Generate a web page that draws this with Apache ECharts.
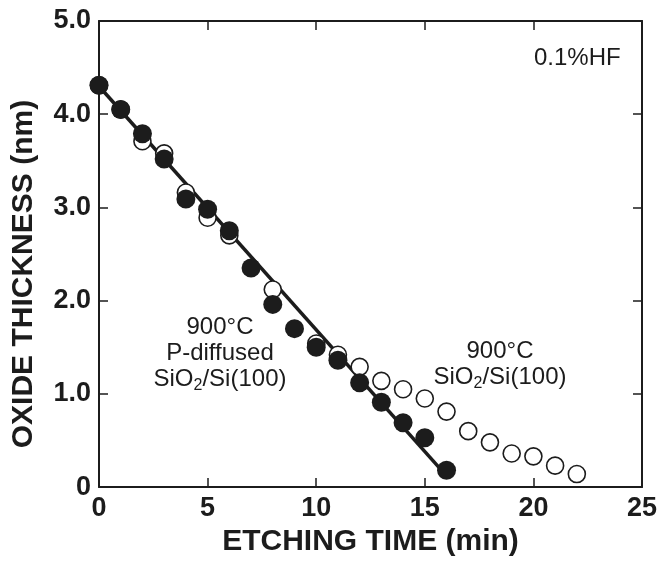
<!DOCTYPE html>
<html>
<head>
<meta charset="utf-8">
<script src="https://cdn.jsdelivr.net/npm/echarts@6/dist/echarts.min.js"></script>
<style>
  html, body { margin: 0; padding: 0; background: #fff; }
  #chart { width: 664px; height: 562px; }
</style>
</head>
<body>
<div id="chart"></div>
<script>
// Etching time (min) for each measurement
const timesPDiffused = [0, 1, 2, 3, 4, 5, 6, 7, 8, 9, 10, 11, 12, 13, 14, 15, 16];
// 900°C P-diffused SiO2/Si(100): oxide thickness (nm), filled circles
const thicknessPDiffused = [4.31, 4.05, 3.79, 3.52, 3.09, 2.98, 2.75, 2.35, 1.96, 1.70, 1.50, 1.36, 1.12, 0.91, 0.69, 0.53, 0.18];

const timesThermal = [0, 1, 2, 3, 4, 5, 6, 8, 10, 11, 12, 13, 14, 15, 16, 17, 18, 19, 20, 21, 22];
// 900°C SiO2/Si(100): oxide thickness (nm), open circles
const thicknessThermal = [4.31, 4.05, 3.71, 3.58, 3.16, 2.89, 2.70, 2.12, 1.54, 1.42, 1.29, 1.14, 1.05, 0.95, 0.81, 0.60, 0.48, 0.36, 0.33, 0.23, 0.14];

// Linear fit through the P-diffused data: [time, thickness]
const fitLine = [[0, 4.30], [16, 0.12]];

// Axis tick labels
const xTickLabels = ['0', '5', '10', '15', '20', '25'];
const yTickLabels = ['0', '1.0', '2.0', '3.0', '4.0', '5.0'];

const INK = '#1c1c1c';
const FONT = '"Liberation Sans", Arial, Helvetica, sans-serif';

const pairs = (xs, ys) => xs.map((x, i) => [x, ys[i]]);

const chart = echarts.init(document.getElementById('chart'), null, { renderer: 'canvas' });

const frameAxisCommon = {
  axisLine: { show: true, onZero: false, lineStyle: { color: INK, width: 2 } },
  axisTick: { show: true, inside: true, length: 9, lineStyle: { color: INK, width: 1.5 } },
  splitLine: { show: false }
};

chart.setOption({
  backgroundColor: '#ffffff',
  animation: false,
  grid: { left: 99, right: 22, top: 21, bottom: 66, containLabel: false },
  xAxis: [
    Object.assign({
      type: 'value', position: 'bottom', min: 0, max: 25, interval: 5,
      axisLabel: {
        color: INK, fontFamily: FONT, fontWeight: 'bold', fontSize: 27, margin: 8,
        formatter: (v) => xTickLabels[Math.round(v / 5)]
      },
      name: 'ETCHING TIME (min)', nameLocation: 'middle', nameGap: 39,
      nameTextStyle: { color: INK, fontFamily: FONT, fontWeight: 'bold', fontSize: 30 }
    }, frameAxisCommon),
    Object.assign({
      type: 'value', position: 'top', min: 0, max: 25, interval: 5,
      axisLabel: { show: false }
    }, frameAxisCommon)
  ],
  yAxis: [
    Object.assign({
      type: 'value', position: 'left', min: 0, max: 5, interval: 1,
      axisLabel: {
        color: INK, fontFamily: FONT, fontWeight: 'bold', fontSize: 27, margin: 8,
        formatter: (v) => yTickLabels[Math.round(v)]
      },
      name: 'OXIDE THICKNESS (nm)', nameLocation: 'middle', nameGap: 60,
      nameTextStyle: {
        color: INK, fontFamily: FONT, fontWeight: 'bold', fontSize: 30,
        padding: [0, 40, 0, 0]
      }
    }, frameAxisCommon),
    Object.assign({
      type: 'value', position: 'right', min: 0, max: 5, interval: 1,
      axisLabel: { show: false }
    }, frameAxisCommon)
  ],
  series: [
    {
      name: 'fit',
      type: 'line',
      data: fitLine,
      showSymbol: false,
      lineStyle: { color: INK, width: 3.5 },
      z: 2
    },
    {
      name: '900°C SiO2/Si(100)',
      type: 'scatter',
      data: pairs(timesThermal, thicknessThermal),
      symbol: 'circle',
      symbolSize: 17,
      itemStyle: { color: '#ffffff', borderColor: INK, borderWidth: 1.6, opacity: 1 },
      z: 3
    },
    {
      name: '900°C P-diffused SiO2/Si(100)',
      type: 'scatter',
      data: pairs(timesPDiffused, thicknessPDiffused),
      symbol: 'circle',
      symbolSize: 19,
      itemStyle: { color: INK, opacity: 1 },
      z: 4
    }
  ],
  graphic: [
    {
      type: 'text', left: 534, top: 46,
      style: { text: '0.1%HF', fill: INK, font: '24px ' + FONT }
    },
    {
      type: 'text', x: 220, y: 353,
      style: {
        text: '{n|900°C}\n{n|P-diffused}\n{n|SiO}{s|2}{n|/Si(100)}',
        align: 'center', verticalAlign: 'middle', fill: INK,
        rich: {
          n: { fontFamily: FONT, fontSize: 24, lineHeight: 26, fill: INK },
          s: { fontFamily: FONT, fontSize: 16, lineHeight: 26, padding: [14, 0, 0, 0], fill: INK }
        }
      }
    },
    {
      type: 'text', x: 500, y: 364,
      style: {
        text: '{n|900°C}\n{n|SiO}{s|2}{n|/Si(100)}',
        align: 'center', verticalAlign: 'middle', fill: INK,
        rich: {
          n: { fontFamily: FONT, fontSize: 24, lineHeight: 26, fill: INK },
          s: { fontFamily: FONT, fontSize: 16, lineHeight: 26, padding: [14, 0, 0, 0], fill: INK }
        }
      }
    }
  ]
});
</script>
</body>
</html>
